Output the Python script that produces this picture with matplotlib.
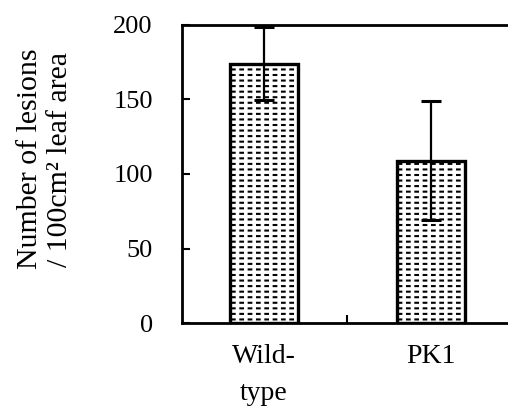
import matplotlib
matplotlib.use("Agg")
import matplotlib.pyplot as plt
import numpy as np

categories = ["Wild-\ntype", "PK1"]
values = [174, 109]
errors = [24.5, 40]
yticks = [0, 50, 100, 150, 200]

plt.rcParams['font.family'] = ['Liberation Serif', 'DejaVu Serif']

fig = plt.figure(figsize=(5.08, 4.07), dpi=100)
ax = fig.add_axes([0.358, 0.206, 0.642, 0.733])

x = np.arange(len(categories))
w = 0.41
with plt.rc_context({'hatch.linewidth': 1.5}):
    ax.bar(x, values, width=w, color='white', edgecolor='black', hatch='---',
           linewidth=0.01, zorder=2)
with plt.rc_context({'hatch.linewidth': 2.6}):
    ax.bar(x, values, width=w, color='none', edgecolor='white', hatch='||',
           linewidth=0.01, zorder=3)
ax.bar(x, values, width=w, color='none', edgecolor='black', linewidth=2.4, zorder=4)
ax.errorbar(x, values, yerr=errors, fmt='none', ecolor='black', elinewidth=1.6,
            capsize=7, capthick=2.2, zorder=5)

ax.set_xlim(-0.49, 1.46)
ax.set_ylim(0, 200)
ax.set_yticks(yticks)
ax.set_yticklabels([str(t) for t in yticks], fontsize=19)
ax.set_xticks(x)
ax.set_xticklabels(categories, fontsize=20, linespacing=1.62, va='top')
ax.tick_params(axis='x', length=0, pad=15)
ax.set_xticks([0.5], minor=True)
ax.tick_params(axis='x', which='minor', direction='in', length=6, width=1.5)
ax.tick_params(axis='y', direction='in', length=6, width=1.5, pad=21)

for s in ['left', 'bottom', 'top']:
    ax.spines[s].set_linewidth(2)
ax.spines['right'].set_visible(False)

ax.set_ylabel("Number of lesions\n/ 100cm² leaf area", fontsize=21.5, linespacing=1.2)
ax.yaxis.set_label_coords(-0.334, 0.55)

fig.savefig("out.png", dpi=100)
